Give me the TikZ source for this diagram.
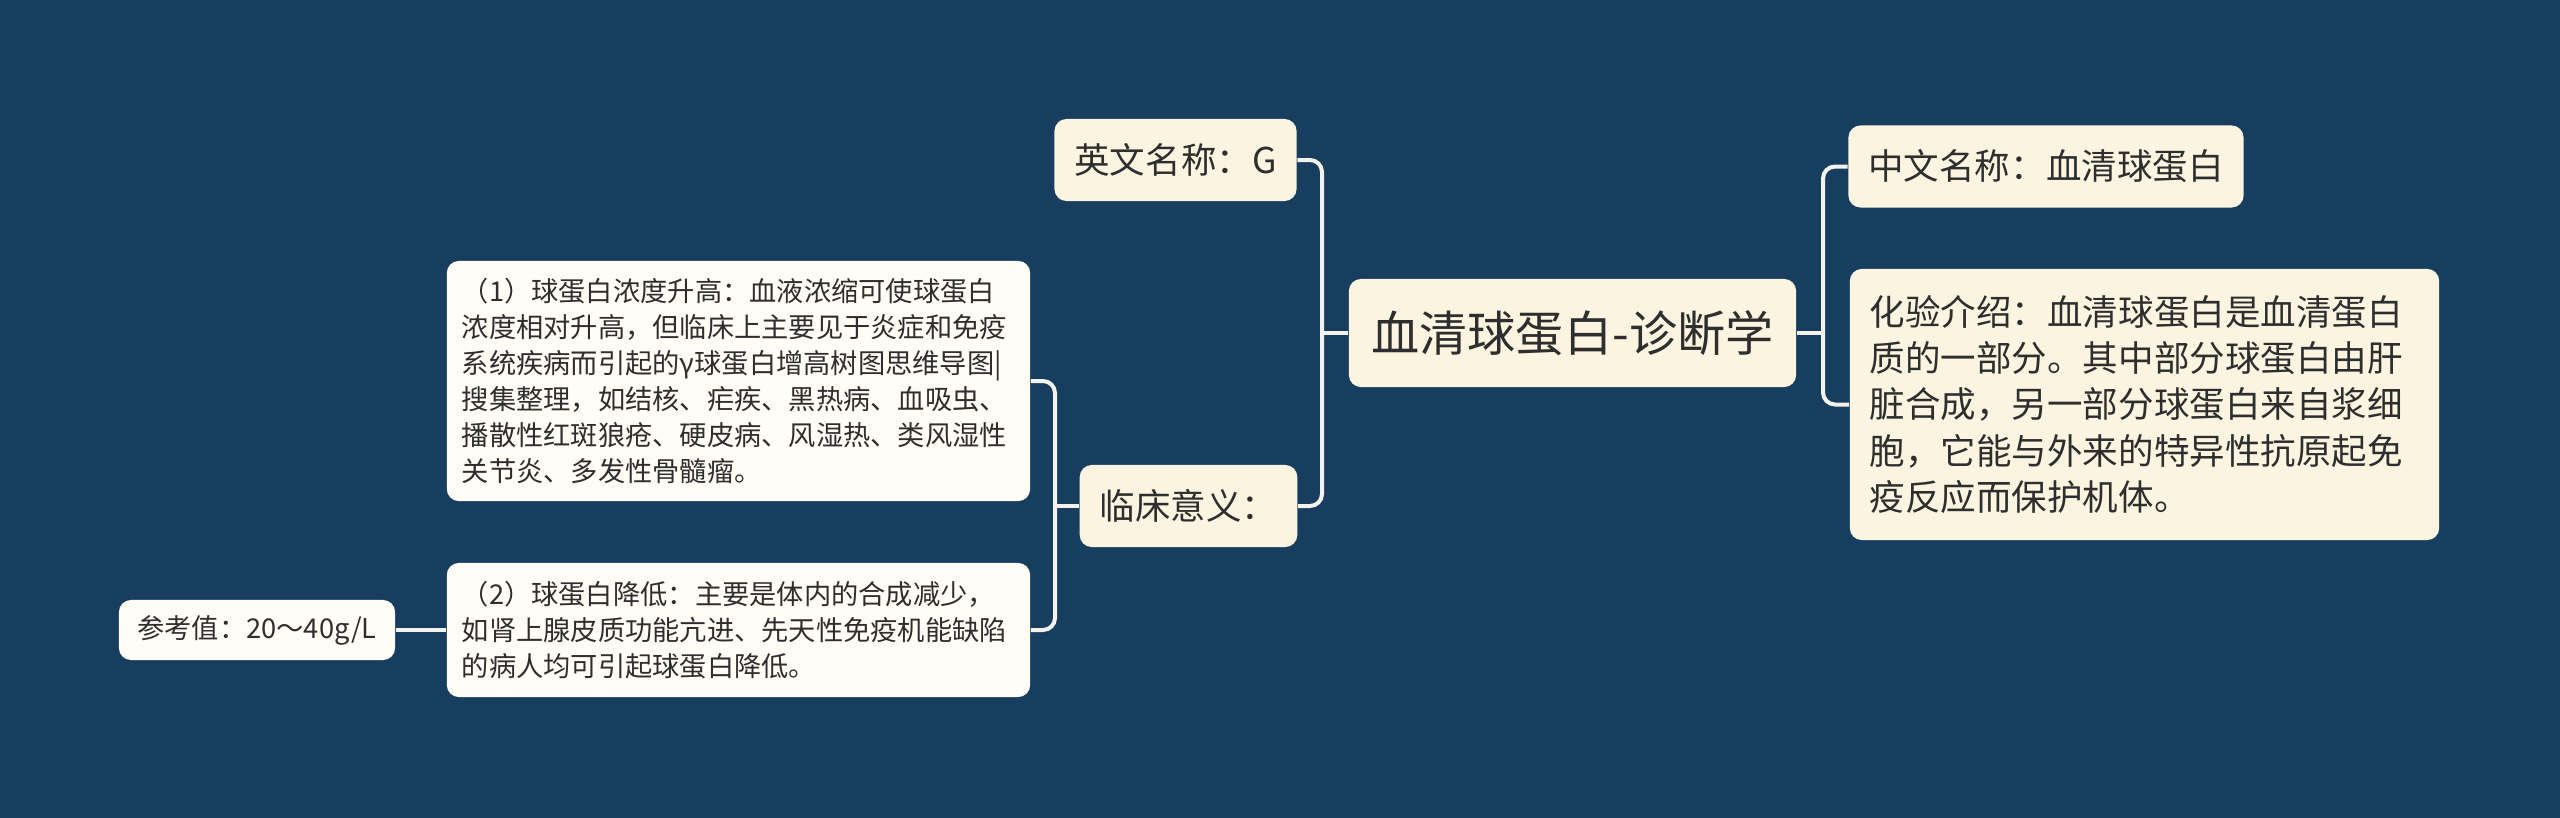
\documentclass[tikz,border=0pt]{standalone}
\usepackage{fontspec}
\setmainfont{Noto Sans CJK SC}
\definecolor{MapNavy}{HTML}{183E5F}
\definecolor{MapCream}{HTML}{FAF4E0}
\definecolor{MapPaper}{HTML}{FFFDF6}
\definecolor{MapInk}{HTML}{2E2E2E}
\definecolor{MapLink}{HTML}{F4F2EC}

\begin{document}
\begin{tikzpicture}[x=0.01cm,y=-0.01cm,line cap=butt,
  box/.style={rounded corners=0.12cm,text=MapInk,inner xsep=0.2cm,inner ysep=0pt},
  rootbox/.style={box,fill=MapCream,font=\fontsize{13.7}{16}\selectfont,minimum width=4.47cm,minimum height=1.08cm},
  topic/.style={box,fill=MapCream,font=\fontsize{10.1}{13.2}\selectfont,minimum height=0.82cm},
  leaf/.style={box,fill=MapPaper,font=\fontsize{7.75}{10.25}\selectfont,inner xsep=0.15cm,minimum height=0.6cm},
  link/.style={MapLink,line width=0.04cm,rounded corners=0.12cm}]
  \useasboundingbox (0,0) rectangle (2560,818);
  \fill[MapNavy] (0,0) rectangle (2560,818);

  % centre and first level
  \node[rootbox] (root) at (1572.5,333) {血清球蛋白-诊断学};
  \node[topic,minimum width=2.39cm] (en) at (1175.5,160) {英文名称：G};
  \node[topic,minimum width=2.13cm] (lc) at (1188.5,506) {临床意义：};
  \node[topic,minimum width=3.92cm] (zh) at (2046,166.5) {中文名称：血清球蛋白};
  \node[topic,text width=5.49cm,align=left,minimum height=2.71cm] (hy) at (2144.5,404.5)
    {化验介绍：血清球蛋白是血清蛋白\\质的一部分。其中部分球蛋白由肝\\脏合成，另一部分球蛋白来自浆细\\胞，它能与外来的特异性抗原起免\\疫反应而保护机体。};

  % second level
  \node[leaf,text width=5.53cm,align=left,minimum height=2.40cm] (up) at (738.5,381)
    {（1）球蛋白浓度升高：血液浓缩可使球蛋白\\浓度相对升高，但临床上主要见于炎症和免疫\\系统疾病而引起的γ球蛋白增高树图思维导图|\\搜集整理，如结核、疟疾、黑热病、血吸虫、\\播散性红斑狼疮、硬皮病、风湿热、类风湿性\\关节炎、多发性骨髓瘤。};
  \node[leaf,text width=5.53cm,align=left,minimum height=1.34cm] (down) at (738.5,630)
    {（2）球蛋白降低：主要是体内的合成减少，\\如肾上腺皮质功能亢进、先天性免疫机能缺陷\\的病人均可引起球蛋白降低。};
  \node[leaf,minimum width=2.76cm] (ref) at (257,630) {参考值：20～40g/L};

  % connectors
  \coordinate (lj) at (1322,333);
  \coordinate (rj) at (1823,333);
  \coordinate (cj) at (1055,506);
  \draw[link] (root.west) -- (lj);
  \draw[link] (en.east) -| (lj);
  \draw[link] (lj) |- (lc.east);
  \draw[link] (root.east) -- (rj);
  \draw[link] (rj) |- (zh.west);
  \draw[link] (rj) |- (hy.west);
  \draw[link] (lc.west) -- (cj);
  \draw[link] (cj) |- (up.east);
  \draw[link] (cj) |- (down.east);
  \draw[link] (ref.east) -- (down.west);
\end{tikzpicture}
\end{document}
